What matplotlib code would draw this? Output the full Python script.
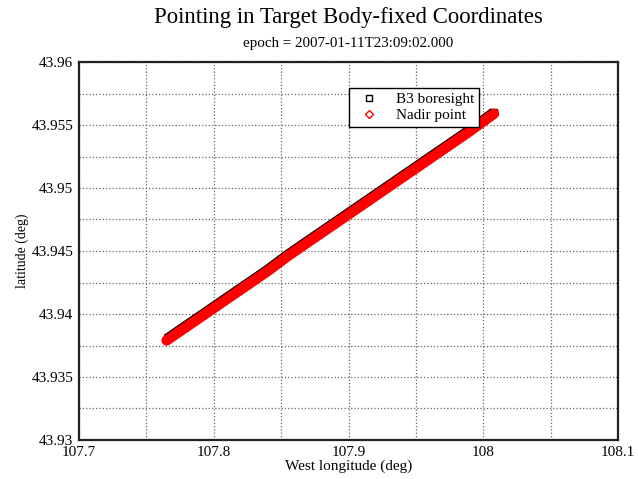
import matplotlib
matplotlib.use("Agg")
import matplotlib.pyplot as plt
from matplotlib.ticker import MultipleLocator, FuncFormatter

plt.rcParams['font.family'] = ['Liberation Serif', 'DejaVu Serif']

# pointing samples
west_lon = [107.765, 107.780, 107.795, 107.810, 107.825, 107.840, 107.855, 107.870, 107.885,
            107.900, 107.915, 107.930, 107.945, 107.960, 107.975, 107.990, 108.008]
lat_nadir = [43.9379, 43.9390, 43.9401, 43.9412, 43.9423, 43.9434, 43.9446, 43.9457, 43.9468,
             43.9479, 43.9490, 43.9501, 43.9512, 43.9523, 43.9534, 43.9545, 43.9559]
lat_b3 = [43.9380, 43.9391, 43.9402, 43.9413, 43.9424, 43.9435, 43.9447, 43.9458, 43.9469,
          43.9480, 43.9491, 43.9502, 43.9513, 43.9524, 43.9535, 43.9546, 43.9560]

fig = plt.figure(figsize=(6.38, 4.79), dpi=100)
ax = fig.add_axes([79/638, 39/479, 539/638, 378/479])

# dense sampling -> solid band
ax.plot(west_lon, lat_b3, '-', color='black', lw=7.5, solid_capstyle='butt', zorder=2)
ax.plot(west_lon, lat_b3, 's', mfc='none', mec='black', ms=4.5, mew=1, zorder=3, label='B3 boresight')
ax.plot(west_lon, lat_nadir, '-', color='red', lw=7.5, solid_capstyle='round', zorder=4)
ax.plot(west_lon, lat_nadir, 'D', mfc='none', mec='red', ms=4.5, mew=1, zorder=5, label='Nadir point')

ax.set_xlim(107.7, 108.1)
ax.set_ylim(43.93, 43.96)
ax.xaxis.set_major_locator(MultipleLocator(0.1))
ax.xaxis.set_minor_locator(MultipleLocator(0.05))
ax.yaxis.set_major_locator(MultipleLocator(0.005))
ax.yaxis.set_minor_locator(MultipleLocator(0.0025))
fmt = FuncFormatter(lambda v, p: '%g' % round(v, 6))
ax.xaxis.set_major_formatter(fmt)
ax.yaxis.set_major_formatter(fmt)
ax.tick_params(which='both', length=0, labelsize=11, pad=4)
ax.grid(True, which='both', linestyle=':', color='#666666', lw=0.9)
for s in ax.spines.values():
    s.set_linewidth(1.6)
    s.set_color('#222222')

ax.set_xlabel('West longitude (deg)', fontsize=11, labelpad=1)
ax.set_ylabel('latitude (deg)', fontsize=10, labelpad=2)

fig.text(348/638, 1 - 18/479, 'Pointing in Target Body-fixed Coordinates', fontsize=16.4,
         ha='center', va='center')
fig.text(348/638, 1 - 44/479, 'epoch = 2007-01-11T23:09:02.000', fontsize=10.8,
         ha='center', va='center')

leg = ax.legend(loc='upper right', bbox_to_anchor=(0.742, 0.931), fontsize=11,
                fancybox=False, framealpha=1, edgecolor='black', borderpad=0.3,
                handlelength=2.0, handletextpad=0.8, labelspacing=0.15, borderaxespad=0)
leg.get_frame().set_linewidth(1.0)

fig.savefig('out.png', dpi=100)
